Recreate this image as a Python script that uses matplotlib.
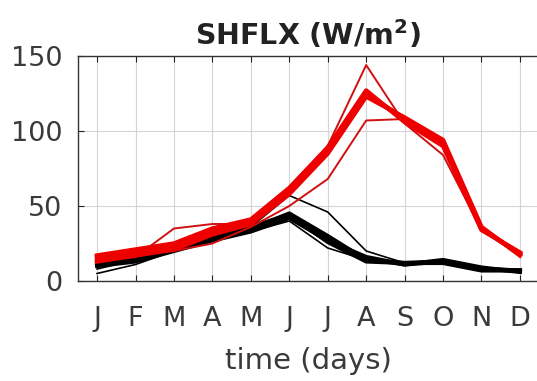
import matplotlib
matplotlib.use("Agg")
import matplotlib.pyplot as plt
import numpy as np

months = ["J", "F", "M", "A", "M", "J", "J", "A", "S", "O", "N", "D"]
month_idx = np.arange(1, 13)

# Sensible heat flux ensemble members (W/m^2), monthly
black_core = [
    [11, 14, 21, 28, 34, 43, 28, 15, 11, 13, 8, 7],
    [12, 15, 22, 29, 35, 45, 30, 14, 12, 13, 8, 7],
    [10, 13, 20, 27, 33, 42, 27, 16, 11, 14, 9, 6],
    [13, 16, 22, 30, 36, 44, 26, 13, 12, 12, 7, 7],
]
black_thin = [
    [8, 14, 22, 30, 36, 57, 46, 20, 12, 13, 7, 6],
    [5, 11, 20, 27, 33, 40, 22, 14, 11, 12, 8, 7],
]
red_core = [
    [15, 19, 23, 33, 40, 60, 87, 125, 108, 92, 35, 18],
    [17, 21, 25, 35, 41, 62, 89, 127, 106, 90, 34, 19],
    [13, 17, 21, 31, 38, 58, 85, 123, 109, 94, 36, 17],
    [16, 20, 22, 32, 39, 61, 86, 126, 107, 91, 35, 18],
]
red_thin = [
    [13, 16, 35, 38, 38, 62, 90, 144, 105, 84, 34, 17],
    [14, 18, 20, 25, 36, 50, 68, 107, 108, 90, 35, 18],
]

yticks = [0, 50, 100, 150]

fig = plt.figure(figsize=(5.37, 3.81), dpi=100)
ax = fig.add_axes([0.145, 0.2625, 0.859, 0.5905])

for s in black_thin:
    ax.plot(month_idx, s, color="black", lw=1.2, zorder=3)
for s in black_core:
    ax.plot(month_idx, s, color="black", lw=3.0, zorder=3)
for s in red_thin:
    ax.plot(month_idx, s, color="#d01010", lw=1.4, zorder=4)
for s in red_core:
    ax.plot(month_idx, s, color="#ee0000", lw=3.2, zorder=4)

ax.set_xlim(0.5, 12.5)
ax.set_ylim(0, 150)
ax.set_xticks(month_idx)
ax.set_xticklabels(months)
ax.set_yticks(yticks)
ax.grid(True, color="#d4d4d4", lw=0.8)
ax.set_axisbelow(True)
ax.tick_params(direction="in", length=4, top=True, right=False,
               labelsize=19.5, colors="#222222", labelcolor="#3a3a3a")
ax.tick_params(axis="x", pad=18)
ax.tick_params(axis="y", pad=11)
for side in ["left", "top", "bottom"]:
    ax.spines[side].set_color("#333333")
    ax.spines[side].set_linewidth(1.0)
ax.spines["right"].set_visible(False)

ax.set_title("SHFLX (W/m$^\\mathbf{2}$)", fontsize=20.5, fontweight="bold",
             color="#222222", pad=8)
ax.set_xlabel("time (days)", fontsize=21, color="#3a3a3a", labelpad=11)

fig.savefig("out.png", dpi=100)
